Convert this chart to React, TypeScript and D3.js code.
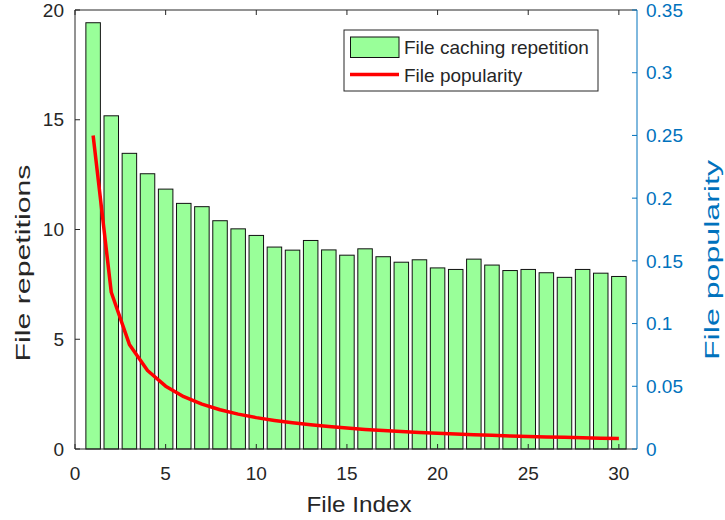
import React from "react";
import * as d3 from "d3";

const fileIndex = [1,2,3,4,5,6,7,8,9,10,11,12,13,14,15,16,17,18,19,20,21,22,23,24,25,26,27,28,29,30];
const repetitions = [19.42,15.18,13.47,12.54,11.84,11.19,11.04,10.40,10.03,9.73,9.20,9.06,9.50,9.07,8.83,9.12,8.76,8.51,8.62,8.25,8.18,8.65,8.38,8.13,8.18,8.03,7.82,8.18,8.01,7.86];
const popularity = [0.250,0.125,0.0834,0.0626,0.0501,0.0417,0.0358,0.0313,0.0278,0.0250,0.0228,0.0209,0.0193,0.0179,0.0167,0.0156,0.0147,0.0139,0.0132,0.0125,0.0119,0.0114,0.0109,0.0104,0.0100,0.0096,0.0093,0.0089,0.0086,0.0083];
const xTicks = [0,5,10,15,20,25,30];
const yLeftTicks = [0,5,10,15,20];
const yRightTicks = [0,0.05,0.1,0.15,0.2,0.25,0.3,0.35];
const xLabel = "File Index";
const yLeftLabel = "File repetitions";
const yRightLabel = "File popularity";
const legendLabels = ["File caching repetition", "File popularity"];

const W = 725, H = 520;
const L = 75, R = 637, T = 10, B = 449;
const FONT = "'Liberation Sans', Arial, sans-serif";
const AX = "#262626";
const BLUE = "#0072BD";

export default function App() {
  const x = d3.scaleLinear().domain([0, 31]).range([L, R]);
  const yL = d3.scaleLinear().domain([0, 20]).range([B, T]);
  const yR = d3.scaleLinear().domain([0, 0.35]).range([B, T]);
  const bw = (x(1) - x(0)) * 0.8;
  const line = d3.line<number>().x((_, i) => x(fileIndex[i])).y((d) => yR(d));
  const tl = 5;
  return (
    <svg width={W} height={H} style={{ position: "absolute", left: 0, top: 0, background: "#fff" }} fontFamily={FONT}>
      <rect x={0} y={0} width={W} height={H} fill="#fff" />
      {repetitions.map((v, i) => (
        <rect key={i} x={x(fileIndex[i]) - bw / 2} y={yL(v)} width={bw} height={yL(0) - yL(v)}
          fill="#99FF99" stroke="#111" strokeWidth={1} />
      ))}
      <path d={line(popularity) || ""} fill="none" stroke="#FF0000" strokeWidth={3.5} strokeLinejoin="round" />
      <line x1={L} x2={R} y1={T} y2={T} stroke={AX} strokeWidth={1} />
      <line x1={L} x2={R} y1={B} y2={B} stroke={AX} strokeWidth={1} />
      <line x1={L} x2={L} y1={T} y2={B} stroke={AX} strokeWidth={1} />
      <line x1={R} x2={R} y1={T} y2={B} stroke={BLUE} strokeWidth={1} />
      {xTicks.map((t) => (
        <g key={"x" + t}>
          <line x1={x(t)} x2={x(t)} y1={B} y2={B - tl} stroke={AX} />
          <line x1={x(t)} x2={x(t)} y1={T} y2={T + tl} stroke={AX} />
          <text x={x(t)} y={480} fontSize={19} textAnchor="middle" fill={AX}>{t}</text>
        </g>
      ))}
      {yLeftTicks.map((t) => (
        <g key={"yl" + t}>
          <line x1={L} x2={L + tl} y1={yL(t)} y2={yL(t)} stroke={AX} />
          <text x={64} y={yL(t)} dy="0.35em" fontSize={19} textAnchor="end" fill={AX}>{t}</text>
        </g>
      ))}
      {yRightTicks.map((t) => (
        <g key={"yr" + t}>
          <line x1={R} x2={R - tl} y1={yR(t)} y2={yR(t)} stroke={BLUE} />
          <text x={646} y={yR(t)} dy="0.35em" fontSize={19} textAnchor="start" fill={BLUE}>{d3.format("~g")(+t.toFixed(2))}</text>
        </g>
      ))}
      <text x={(L + R) / 2 + 3} y={512} fontSize={22} textAnchor="middle" fill={AX} textLength={105} lengthAdjust="spacingAndGlyphs">{xLabel}</text>
      <text transform={`translate(30,${263}) rotate(-90)`} fontSize={21} textAnchor="middle" fill={AX} textLength={197} lengthAdjust="spacingAndGlyphs">{yLeftLabel}</text>
      <text transform={`translate(719,${260}) rotate(-90)`} fontSize={21} textAnchor="middle" fill={BLUE} textLength={200} lengthAdjust="spacingAndGlyphs">{yRightLabel}</text>
      <rect x={344} y={30} width={254} height={61} fill="#fff" stroke={AX} strokeWidth={1} />
      <rect x={350.5} y={37} width={48.5} height={20.5} fill="#99FF99" stroke="#111" strokeWidth={1} />
      <text x={404} y={54} fontSize={19} fill={AX}>{legendLabels[0]}</text>
      <line x1={350} x2={399} y1={74.5} y2={74.5} stroke="#FF0000" strokeWidth={3.5} />
      <text x={404} y={82} fontSize={19} fill={AX}>{legendLabels[1]}</text>
    </svg>
  );
}
